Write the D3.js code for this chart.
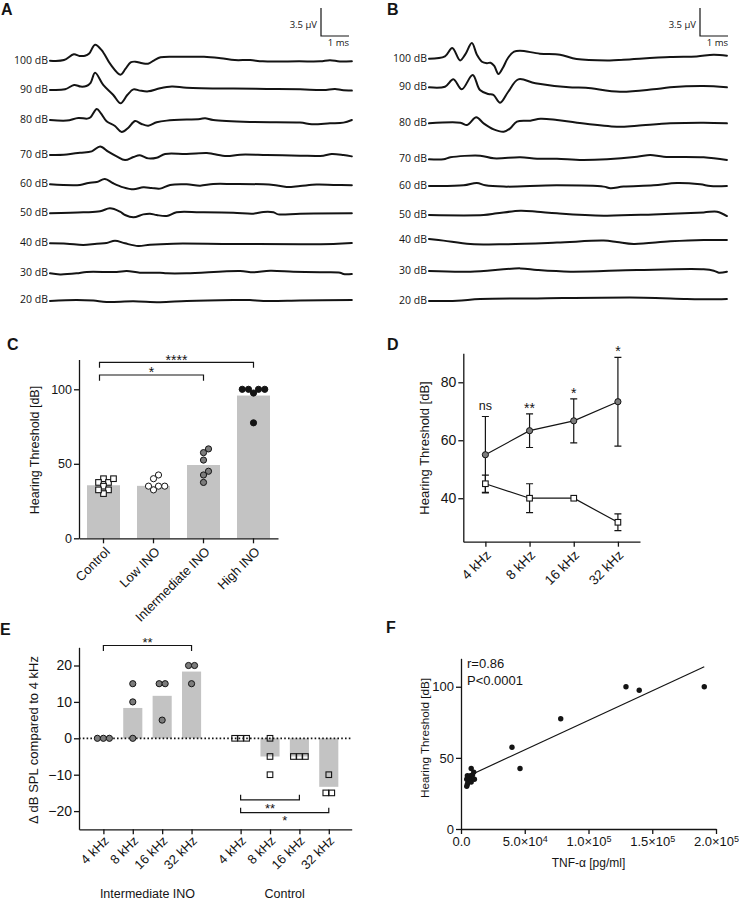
<!DOCTYPE html>
<html>
<head>
<meta charset="utf-8">
<script src="https://cdn.jsdelivr.net/npm/d3@7"></script>
<style>
  body { margin: 0; background: #fff; }
  svg { display: block; }
</style>
</head>
<body>
<div id="fig"></div>
<script>
// ---------- data ----------
// A/B: ABR traces, [ms, µV] pairs, each relative to its own baseline
const levels = ['100 dB', '90 dB', '80 dB', '70 dB', '60 dB', '50 dB', '40 dB', '30 dB', '20 dB'];
const tracesA = [
  [[0,0],[0.5,0.08],[0.85,0.8],[1.05,0.6],[1.25,0.62],[1.4,0.9],[1.61,2.0],[1.85,1.3],[2.15,-0.4],[2.52,-1.75],[2.7,-1.0],[2.88,-0.2],[3.05,-0.12],[3.3,-0.33],[3.5,-0.38],[3.72,0.05],[3.95,0.42],[4.6,0.48],[5.5,0.48],[6.1,0.3],[6.6,0.08],[7.15,0.08],[7.6,-0.08],[8.9,-0.08],[9.65,-0.08],[10.0,0.06],[10.35,-0.1],[10.78,-0.06]],
  [[0,0],[0.54,0.08],[0.86,0.63],[1.1,0.42],[1.3,0.5],[1.45,0.9],[1.61,2.15],[1.9,0.63],[2.26,-0.63],[2.52,-1.67],[2.76,-0.63],[2.98,0.08],[3.21,-0.08],[3.51,-0.17],[3.93,0.21],[4.35,0.42],[4.88,0.29],[6.55,0.17],[7.74,0.13],[8.93,0.08],[9.76,0],[10.18,0.13],[10.42,0],[10.78,-0.08]],
  [[0,0],[0.6,-0.08],[1.01,0.25],[1.33,0.17],[1.45,0.35],[1.67,1.38],[1.82,0.83],[2.02,-0.15],[2.32,-0.75],[2.56,-1.5],[2.8,-0.96],[3.04,-0.13],[3.27,-0.5],[3.51,-0.71],[3.81,-0.29],[4.17,-0.08],[5.36,0.13],[5.54,0.21],[5.83,0],[7.14,-0.25],[8.93,-0.33],[9.35,-0.54],[10,-0.42],[10.48,-0.33],[10.78,0]],
  [[0,0],[0.6,0.08],[1.07,0.29],[1.49,0.46],[1.79,1.08],[2.08,0.42],[2.38,-0.17],[2.68,-0.63],[2.98,-0.25],[3.21,-0.04],[3.51,-0.42],[3.81,-0.33],[4.11,0.13],[4.88,0.13],[5.6,0.25],[5.83,0.13],[6.31,-0.13],[6.79,0.04],[7.74,0],[8.93,-0.08],[9.76,-0.08],[10.06,0.13],[10.48,0],[10.78,-0.17]],
  [[0,0],[1.07,-0.08],[1.37,0.17],[1.67,0.29],[1.96,0.67],[2.26,0.13],[2.62,-0.38],[2.98,-0.63],[3.33,-0.38],[3.63,-0.46],[3.93,-0.54],[4.29,-0.08],[4.88,0],[5.36,-0.17],[5.83,0.04],[6.55,0.04],[7.62,0],[7.98,-0.08],[8.45,-0.33],[8.93,-0.21],[9.52,-0.04],[10.12,-0.08],[10.78,-0.13]],
  [[0,0],[1.19,0.13],[1.79,0.25],[2.14,0.63],[2.5,0.21],[2.68,-0.21],[2.98,-0.5],[3.33,-0.13],[3.57,-0.04],[3.81,-0.21],[4.17,-0.33],[4.52,0.13],[5.36,0.13],[6.55,0.08],[7.26,-0.04],[7.62,0.17],[7.98,0.13],[8.15,-0.13],[8.93,-0.04],[10.78,0]],
  [[0,0],[0.6,-0.04],[1.19,-0.21],[1.67,-0.04],[2.02,0.04],[2.32,0.33],[2.68,0],[3.15,-0.33],[3.57,-0.17],[4.4,-0.04],[6.55,-0.08],[10.12,-0.08],[10.78,0.04]],
  [[0,0],[0.36,-0.13],[0.95,0],[1.31,0.17],[2.38,0.17],[2.74,0.29],[3.21,0.08],[3.93,0.08],[4.17,0],[4.88,0],[6.79,0.29],[7.26,0.13],[7.86,0.33],[8.69,0.21],[9.64,0.13],[10.36,0.08],[10.48,-0.08],[10.78,-0.08]],
  [[0,-0.08],[0.95,0.04],[1.55,-0.04],[2.02,-0.21],[2.98,-0.13],[3.93,-0.25],[4.88,-0.08],[6.55,0.04],[7.14,0.04],[7.62,-0.08],[8.93,-0.04],[10.78,0.04]]
];
const tracesB = [
  [[0,0],[0.57,0.29],[0.83,1.34],[1.11,-0.21],[1.29,0.5],[1.53,1.96],[1.71,0.5],[1.89,-0.38],[2.07,-0.56],[2.2,-0.5],[2.33,-0.9],[2.48,-1.91],[2.64,-1.13],[2.82,0.09],[3.04,0.88],[3.25,1.0],[3.96,0.63],[4.68,0.5],[5.27,-0.04],[6.46,-0.21],[6.94,-0.13],[8.61,0.21],[9.56,0.29],[10.16,0.5],[10.64,0.38]],
  [[0,0],[0.57,0.08],[0.87,1.0],[1.17,-0.25],[1.56,1.54],[1.82,-0.34],[2.12,-0.84],[2.3,-0.95],[2.54,-1.93],[2.83,-0.55],[3.19,1.0],[3.8,0.5],[5.0,0],[5.6,-0.05],[6.82,-0.55],[8.01,-0.25],[8.61,0],[9.8,0.16],[10.64,0]],
  [[0,0],[1.12,0.08],[1.36,-0.21],[1.69,0.75],[1.95,0],[2.31,-0.75],[2.67,-1.04],[2.9,-0.63],[3.14,0.21],[3.62,0.33],[3.98,0.58],[4.57,0.42],[5.29,0.08],[6.71,-0.42],[7.43,-0.29],[8.62,0],[9.81,0.08],[10.64,0]],
  [[0,0],[0.52,0],[0.76,0.25],[1.83,0.46],[2.31,0.13],[3.26,0.25],[3.86,0.08],[4.57,0.08],[5.52,-0.08],[7.43,0.33],[7.9,0.54],[8.38,0.33],[9.81,0.25],[10.64,-0.08]],
  [[0,0],[1.24,0.08],[1.71,0.38],[2.01,0.08],[2.67,-0.08],[4.57,0.08],[6.24,-0.08],[6.48,-0.29],[6.95,-0.08],[8.02,0.08],[8.86,0.38],[9.69,0.21],[10.05,0],[10.64,0]],
  [[0,0],[1.95,0],[2.43,0.21],[3.26,0.54],[3.86,0.42],[4.57,0.21],[6.24,-0.08],[8.02,0.08],[9.81,0.33],[10.29,0.42],[10.64,-0.13]],
  [[0,0.13],[0.52,-0.08],[1.48,-0.5],[2.67,-0.54],[4.57,-0.33],[6.24,-0.08],[6.71,-0.25],[7.31,-0.5],[8.62,-0.17],[9.81,0],[10.64,0]],
  [[0,0],[1.48,-0.08],[3.26,0.33],[3.86,0.13],[5.05,-0.08],[7.43,0.13],[9.81,0.21],[10.17,0.04],[10.35,-0.21],[10.64,-0.08]],
  [[0,0],[1.0,0.04],[1.83,0.25],[3.86,0.33],[7.67,0.42],[9.21,0.25],[10.29,0.21],[10.64,0.25]]
];
// stacking offset of each trace, µV
const offsetsA = [0, -3.66, -7.41, -11.79, -15.45, -19.08, -22.83, -26.58, -29.95];
const offsetsB = [0, -3.58, -8.08, -12.58, -15.91, -19.54, -22.66, -26.54, -30.29];
const scaleBarUv = 3.5, scaleBarMs = 1;

// C: hearing threshold by group
const groupsC = ['Control', 'Low INO', 'Intermediate INO', 'High INO'];
const barsC = [35.6, 35.2, 49.2, 95.8];
const pointsC = [
  [40, 37.5, 40, 37.5, 35, 32.5, 30, 32.5],
  [42.5, 35, 32.5, 35, 40, 35],
  [60, 57.5, 52.5, 45, 42.5, 37.5],
  [100, 100, 97.5, 100, 100, 77.5]
];
const ticksC = [0, 50, 100];

// D: threshold by frequency
const freqs = ['4 kHz', '8 kHz', '16 kHz', '32 kHz'];
const inoMean = [55, 63.3, 66.7, 73.3];
const inoSD = [13.2, 5.8, 7.6, 15.3];
const ctrlMean = [45, 40, 40, 31.7];
const ctrlSD = [3, 5, 0, 2.9];
const sigD = ['ns', '**', '*', '*'];
const ticksD = [40, 60, 80];

// E: change relative to 4 kHz
const groupsE = ['Intermediate INO', 'Control'];
const inoDelta = [[0, 0, 0], [15, 10, 0], [15, 15, 5], [20, 20, 15]];
const ctrlDelta = [[0, 0, 0], [0, -5, -10], [-5, -5, -5], [-10, -15, -15]];
const ticksE = [-20, -10, 0, 10, 20];

// F: TNF-alpha vs threshold
const tnf = [129400, 139800, 190800, 78200, 40000, 46300, 4500, 5000, 5500, 4500, 6000, 5000, 7000, 8000, 7500, 8000, 10000, 10500, 9000];
const thrF = [100, 97.5, 100, 77.5, 57.5, 42.5, 30, 31.5, 33, 35, 36, 37.5, 35, 33, 37.5, 42.5, 40, 35, 38];
const fitSlope = 4.15e-4, fitIntercept = 34.9;
const ticksFy = [0, 50, 100];
const ticksFx = [0, 5e4, 1e5, 1.5e5, 2e5];
const tickLabelsFx = [['0.0', ''], ['5.0×10', '4'], ['1.0×10', '5'], ['1.5×10', '5'], ['2.0×10', '5']];

// ---------- setup ----------
const W = 739, H = 900;
const SANS = '"Liberation Sans", Arial, sans-serif';
const MYRIAD = '"Open Sans", "DejaVu Sans", sans-serif';
const INK = '#141414';
const BAR = '#c3c3c3';
const GREY = '#7c7c7c';

const svg = d3.select('#fig').append('svg')
  .attr('width', W).attr('height', H)
  .attr('font-family', SANS);
svg.append('rect').attr('width', W).attr('height', H).attr('fill', '#fff');

function letter(t, x, y) {
  svg.append('text').attr('x', x).attr('y', y)
    .attr('font-weight', 'bold').attr('font-size', 16).attr('fill', INK).text(t);
}

function styleAxis(g, fs) {
  g.attr('font-family', SANS).attr('font-size', fs);
  g.selectAll('path, line').attr('stroke', INK).attr('stroke-width', 1.3);
  g.selectAll('text').attr('fill', INK);
}

function yLabel(text, x, y, fs) {
  svg.append('text')
    .attr('transform', `translate(${x},${y}) rotate(-90)`)
    .attr('text-anchor', 'middle').attr('dy', '0.35em')
    .attr('font-size', fs).attr('fill', INK).text(text);
}

function marker(g, shape, cx, cy, fill) {
  if (shape === 'square') {
    g.append('rect').attr('x', cx - 2.8).attr('y', cy - 2.8)
      .attr('width', 5.6).attr('height', 5.6)
      .attr('fill', fill).attr('stroke', INK).attr('stroke-width', 1.1);
  } else {
    g.append('circle').attr('cx', cx).attr('cy', cy).attr('r', 3.1)
      .attr('fill', fill).attr('stroke', INK).attr('stroke-width', 1);
  }
}

// simple beeswarm: equal values side by side, else nearest free spot
function swarm(vals, y, d) {
  const order = d3.range(vals.length).sort((a, b) => vals[a] - vals[b]);
  const placed = [];
  const off = new Array(vals.length);
  const hits = (x, yy) => placed.some(p => (p.x - x) ** 2 + (p.y - yy) ** 2 < d * d - 0.05);
  d3.groups(order, i => vals[i]).forEach(([v, idx]) => {
    const yy = y(v);
    const sym = idx.map((_, k) => (k - (idx.length - 1) / 2) * d);
    if (!sym.some(x => hits(x, yy))) {
      idx.forEach((i, k) => { off[i] = sym[k]; placed.push({x: sym[k], y: yy}); });
      return;
    }
    idx.forEach(i => {
      for (let s = 0; s < 60; s += 0.25) {
        const c = s === 0 ? [0] : [s, -s];
        const f = c.find(x => !hits(x, yy));
        if (f !== undefined) { off[i] = f; placed.push({x: f, y: yy}); break; }
      }
    });
  });
  return off;
}

// ---------- A & B ----------
function drawABR(traces, offsets, o) {
  const x = d3.scaleLinear().domain([0, 10]).range([o.x0, o.x0 + 280]);
  const y = d3.scaleLinear().domain([0, 1]).range([o.y0, o.y0 - 8]);
  const line = d3.line().x(d => x(d[0])).y(d => y(d[1])).curve(d3.curveCatmullRom.alpha(0.5));
  const g = svg.append('g');
  traces.forEach((tr, i) => {
    g.append('path')
      .attr('d', line(tr.map(p => [p[0], p[1] + offsets[i]])))
      .attr('fill', 'none').attr('stroke', INK).attr('stroke-width', 2)
      .attr('stroke-linejoin', 'round').attr('stroke-linecap', 'round');
    g.append('text')
      .attr('x', o.x0 - 2).attr('y', y(offsets[i]) - 0.8).attr('dy', '0.35em')
      .attr('text-anchor', 'end').attr('font-family', MYRIAD).attr('font-size', 10.5)
      .attr('fill', INK).text(levels[i]);
  });
  const bw = x(scaleBarMs) - x(0), bh = y(0) - y(scaleBarUv);
  g.append('path')
    .attr('d', `M${o.barX},${o.barY - bh}V${o.barY}H${o.barX + bw}`)
    .attr('fill', 'none').attr('stroke', INK).attr('stroke-width', 1.2);
  g.append('text').attr('x', o.barX - 4).attr('y', o.barY - 8)
    .attr('text-anchor', 'end').attr('font-family', MYRIAD).attr('font-size', 9.5)
    .attr('fill', INK).text(scaleBarUv + ' µV');
  g.append('text').attr('x', o.barX + bw).attr('y', o.barY + 9.5)
    .attr('text-anchor', 'end').attr('font-family', MYRIAD).attr('font-size', 9.5)
    .attr('fill', INK).text(scaleBarMs + ' ms');
}
drawABR(tracesA, offsetsA, {x0: 50, y0: 60.7, barX: 321, barY: 36});
drawABR(tracesB, offsetsB, {x0: 429, y0: 58.7, barX: 700, barY: 36});
letter('A', 1, 15);
letter('B', 387, 15);

// ---------- C ----------
{
  const y = d3.scaleLinear().domain([0, 120]).range([538.3, 359.5]);
  const x = d3.scaleBand().domain(groupsC).range([79, 278]).paddingInner(0.34).paddingOuter(0.16);
  const g = svg.append('g');
  g.selectAll('.bar').data(barsC).join('rect')
    .attr('x', (d, i) => x(groupsC[i])).attr('width', x.bandwidth())
    .attr('y', d => y(d)).attr('height', d => y(0) - y(d)).attr('fill', BAR);

  const shapes = ['square', 'circle', 'circle', 'circle'];
  const fills = ['#fff', '#fff', GREY, INK];
  pointsC.forEach((vals, gi) => {
    const cx = x(groupsC[gi]) + x.bandwidth() / 2;
    const off = swarm(vals, y, 6.2);
    vals.forEach((v, i) => marker(g, shapes[gi], cx + off[i], y(v), fills[gi]));
  });

  const ay = g.append('g').attr('transform', 'translate(79,0)')
    .call(d3.axisLeft(y).tickValues(ticksC).tickSize(5).tickSizeOuter(0).tickPadding(2));
  styleAxis(ay, 12.5);
  const ax = g.append('g').attr('transform', `translate(0,${y(0)})`)
    .call(d3.axisBottom(x).tickSize(5).tickSizeOuter(0).tickFormat(''));
  styleAxis(ax, 13);
  groupsC.forEach(c => {
    g.append('text')
      .attr('transform', `translate(${x(c) + x.bandwidth() / 2 + 4},${y(0) + 11}) rotate(-45)`)
      .attr('text-anchor', 'end').attr('dy', '0.35em')
      .attr('font-size', 13).attr('fill', INK).text(c);
  });

  // brackets
  const brackets = [{a: 0, b: 3, lv: 118.1, tip: 114.5, s: '****'}, {a: 0, b: 2, lv: 109.6, tip: 105.8, s: '*'}];
  brackets.forEach(br => {
    const x1 = x(groupsC[br.a]) + x.bandwidth() / 2 - 4;
    const x2 = x(groupsC[br.b]) + x.bandwidth() / 2;
    g.append('path').attr('d', `M${x1},${y(br.tip)}V${y(br.lv)}H${x2}V${y(br.tip)}`)
      .attr('fill', 'none').attr('stroke', INK).attr('stroke-width', 1.2);
    g.append('text').attr('x', (x1 + x2) / 2).attr('y', y(br.lv) + 2.5)
      .attr('text-anchor', 'middle').attr('font-size', 14).attr('fill', INK).text(br.s);
  });
  yLabel('Hearing Threshold  [dB]', 35, 450, 12.5);
}
letter('C', 7, 350);

// ---------- D ----------
{
  const y = d3.scaleLinear().domain([25, 90]).range([541.7, 353.3]);
  const x = d3.scalePoint().domain(freqs).range([463.3, 640]).padding(0.5);
  const g = svg.append('g');
  const err = (mean, sd) => {
    freqs.forEach((f, i) => {
      if (!sd[i]) return;
      const cx = x(f), t = y(mean[i] + sd[i]), b = y(mean[i] - sd[i]);
      g.append('path').attr('d', `M${cx - 3.5},${t}H${cx + 3.5}M${cx},${t}V${b}M${cx - 3.5},${b}H${cx + 3.5}`)
        .attr('fill', 'none').attr('stroke', INK).attr('stroke-width', 1.2);
    });
  };
  err(ctrlMean, ctrlSD);
  err(inoMean, inoSD);
  const line = d3.line().x((d, i) => x(freqs[i])).y(d => y(d));
  [inoMean, ctrlMean].forEach(m => g.append('path').attr('d', line(m))
    .attr('fill', 'none').attr('stroke', INK).attr('stroke-width', 1.2));
  freqs.forEach((f, i) => {
    marker(g, 'circle', x(f), y(inoMean[i]), GREY);
    marker(g, 'square', x(f), y(ctrlMean[i]), '#fff');
    const top = y(inoMean[i] + inoSD[i]);
    g.append('text').attr('x', x(f)).attr('y', sigD[i] === 'ns' ? top - 6.5 : top - 1)
      .attr('text-anchor', 'middle').attr('font-size', sigD[i] === 'ns' ? 12.5 : 14)
      .attr('fill', INK).text(sigD[i]);
  });
  const ay = g.append('g').attr('transform', 'translate(463.3,0)')
    .call(d3.axisLeft(y).tickValues(ticksD).tickSize(5).tickSizeOuter(0).tickPadding(2));
  styleAxis(ay, 14);
  const ax = g.append('g').attr('transform', `translate(0,${y(25)})`)
    .call(d3.axisBottom(x).tickSize(5).tickSizeOuter(0).tickFormat(''));
  styleAxis(ax, 14);
  freqs.forEach(f => {
    g.append('text')
      .attr('transform', `translate(${x(f) + 3},${y(25) + 11}) rotate(-45)`)
      .attr('text-anchor', 'end').attr('dy', '0.35em')
      .attr('font-size', 13.5).attr('fill', INK).text(f);
  });
  yLabel('Hearing Threshold  [dB]', 424, 448, 13);
}
letter('D', 387, 350);

// ---------- E ----------
{
  const gap = 0.67;
  const pos = (gi, i) => gi * (freqs.length + gap) + i;
  const y = d3.scaleLinear().domain([-25, 25]).range([829.3, 647.3]);
  const x = d3.scaleLinear().domain([-0.83, 8.45]).range([79, 351.7]);
  const bw = 0.65 * (x(1) - x(0));
  const g = svg.append('g');
  const sets = [inoDelta, ctrlDelta];
  sets.forEach((set, gi) => set.forEach((vals, i) => {
    const m = d3.mean(vals);
    if (m === 0) return;
    g.append('rect').attr('x', x(pos(gi, i)) - bw / 2).attr('width', bw)
      .attr('y', y(Math.max(m, 0))).attr('height', Math.abs(y(m) - y(0))).attr('fill', BAR);
  }));
  g.append('line').attr('x1', x.range()[0]).attr('x2', x.range()[1])
    .attr('y1', y(0)).attr('y2', y(0))
    .attr('stroke', INK).attr('stroke-width', 1.7).attr('stroke-dasharray', '1.6,2.2');
  sets.forEach((set, gi) => set.forEach((vals, i) => {
    const off = swarm(vals, y, 6);
    vals.forEach((v, k) => marker(g, gi === 0 ? 'circle' : 'square', x(pos(gi, i)) + off[k], y(v), gi === 0 ? GREY : 'none'));
  }));

  const tickPos = [];
  groupsE.forEach((_, gi) => freqs.forEach((f, i) => tickPos.push(pos(gi, i))));
  const ay = g.append('g').attr('transform', 'translate(79,0)')
    .call(d3.axisLeft(y).tickValues(ticksE).tickSize(5).tickSizeOuter(0).tickPadding(2));
  styleAxis(ay, 14);
  const ax = g.append('g').attr('transform', `translate(0,${y(-25)})`)
    .call(d3.axisBottom(x).tickValues(tickPos).tickSize(5).tickSizeOuter(0).tickFormat(''));
  styleAxis(ax, 13);
  groupsE.forEach((grp, gi) => {
    freqs.forEach((f, i) => {
      g.append('text')
        .attr('transform', `translate(${x(pos(gi, i)) + 3},${y(-25) + 9}) rotate(-45)`)
        .attr('text-anchor', 'end').attr('dy', '0.35em')
        .attr('font-size', 13).attr('fill', INK).text(f);
    });
    g.append('text').attr('x', x(pos(gi, 1.5))).attr('y', 898)
      .attr('text-anchor', 'middle').attr('font-size', 12.5).attr('fill', INK).text(grp);
  });

  // brackets between frequencies within a group
  const brackets = [
    {gi: 0, a: 0, b: 3, lv: 25.5, tip: 24, s: '**', dy: 2},
    {gi: 1, a: 0, b: 2, lv: -16.9, tip: -15.5, s: '**', dy: 13.5},
    {gi: 1, a: 0, b: 3, lv: -20.4, tip: -19.1, s: '*', dy: 12.5}
  ];
  brackets.forEach(br => {
    const x1 = x(pos(br.gi, br.a)), x2 = x(pos(br.gi, br.b));
    g.append('path').attr('d', `M${x1},${y(br.tip)}V${y(br.lv)}H${x2}V${y(br.tip)}`)
      .attr('fill', 'none').attr('stroke', INK).attr('stroke-width', 1.2);
    g.append('text').attr('x', (x1 + x2) / 2).attr('y', y(br.lv) + br.dy)
      .attr('text-anchor', 'middle').attr('font-size', 13).attr('fill', INK).text(br.s);
  });
  yLabel('Δ dB SPL compared to 4 kHz', 33, 740, 13);
}
letter('E', 0, 635);

// ---------- F ----------
{
  const y = d3.scaleLinear().domain([0, 120]).range([829, 658.3]);
  const x = d3.scaleLinear().domain([0, 2e5]).range([461, 716]);
  const g = svg.append('g');
  const ext = d3.extent(tnf);
  g.append('line')
    .attr('x1', x(ext[0])).attr('y1', y(fitIntercept + fitSlope * ext[0]))
    .attr('x2', x(ext[1])).attr('y2', y(fitIntercept + fitSlope * ext[1]))
    .attr('stroke', INK).attr('stroke-width', 1.2);
  g.selectAll('.pt').data(tnf).join('circle')
    .attr('cx', d => x(d)).attr('cy', (d, i) => y(thrF[i])).attr('r', 2.7).attr('fill', INK);

  const ay = g.append('g').attr('transform', 'translate(461,0)')
    .call(d3.axisLeft(y).tickValues(ticksFy).tickSize(5).tickSizeOuter(0).tickPadding(2));
  styleAxis(ay, 13);
  const ax = g.append('g').attr('transform', 'translate(0,829)')
    .call(d3.axisBottom(x).tickValues(ticksFx).tickSize(5).tickSizeOuter(0).tickPadding(3));
  styleAxis(ax, 13);
  ax.selectAll('.tick text').each(function (d, i) {
    const t = d3.select(this).text(null);
    t.append('tspan').text(tickLabelsFx[i][0]);
    if (tickLabelsFx[i][1]) t.append('tspan').attr('dy', '-0.45em').attr('font-size', 9).text(tickLabelsFx[i][1]);
  });
  g.append('text').attr('x', x(1e5)).attr('y', 867)
    .attr('text-anchor', 'middle').attr('font-size', 12).attr('fill', INK).text('TNF-α [pg/ml]');
  g.append('text').attr('x', 467).attr('y', 668).attr('font-size', 13).attr('fill', INK).text('r=0.86');
  g.append('text').attr('x', 467).attr('y', 685).attr('font-size', 13).attr('fill', INK).text('P<0.0001');
  yLabel('Hearing Threshold [dB]', 425, 738, 11.7);
}
letter('F', 386, 633);
</script>
</body>
</html>
